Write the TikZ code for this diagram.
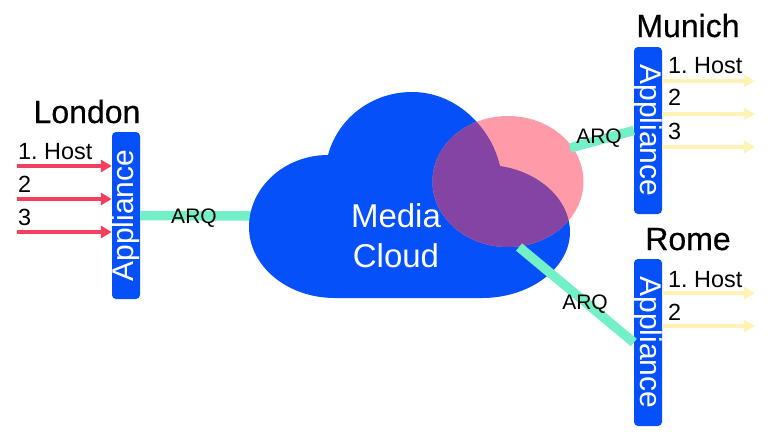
\documentclass[tikz,border=0pt]{standalone}
\usepackage{fontspec}
\setmainfont{Liberation Sans}
\newfontfamily\cityfont[FakeBold=0.5]{Liberation Sans}
\usetikzlibrary{arrows.meta}

\definecolor{cloudblue}{HTML}{0550F8}
\definecolor{arqgreen}{HTML}{74F0C8}
\definecolor{inred}{HTML}{F4405E}
\definecolor{outyellow}{HTML}{FFF2B5}
\definecolor{overlappink}{HTML}{FF9BA8}
\definecolor{overlappurple}{HTML}{8444A4}

\newcommand{\cloudpath}{(335,298) .. controls (287,298) and (249,266) .. (249,227) .. controls (249,187) and (285,155) .. (328,155) .. controls (338,118) and (372,92) .. (412,92) .. controls (456,92) and (491,127) .. (500,166) .. controls (540,172) and (570,200) .. (570,232) .. controls (570,268) and (530,298) .. (482,298) -- cycle}

\begin{document}
\begin{tikzpicture}[x=1pt,y=-1pt,
  box/.style={fill=cloudblue,text=white,rounded corners=4pt,minimum width=167pt,minimum height=28pt,inner sep=0pt,font=\fontsize{30}{30}\selectfont},
  city/.style={anchor=base,font=\cityfont\fontsize{32}{32}\selectfont},
  host/.style={anchor=base west,inner sep=0pt,font=\frenchspacing\fontsize{23.4}{24}\selectfont},
  arq/.style={anchor=base,inner sep=0pt,font=\fontsize{21}{21}\selectfont},
  link/.style={arqgreen,line width=9.5pt},
  inarrow/.style={inred,line width=4.5pt,-{Triangle[length=11pt,width=12pt]}},
  outarrow/.style={outyellow,line width=4.5pt,-{Triangle[length=11pt,width=12pt]}}]

\useasboundingbox (0,0) rectangle (771,440);

\node[box,rotate=90] (lon) at (126,215.5) {Appliance};
\node[box,rotate=-90] (mun) at (648,130.5) {Appliance};
\node[box,rotate=-90] (rom) at (648,342.5) {Appliance};

\coordinate (cloudw) at (252,216);
\coordinate (cloudn) at (570,148);
\coordinate (clouds) at (519,247);

\draw[link] (lon.south) -- (cloudw);
\fill[cloudblue] \cloudpath;
\fill[overlappink] (508,181.5) ellipse [x radius=75.5,y radius=65.5];
\begin{scope}
\clip \cloudpath;
\fill[overlappurple] (508,181.5) ellipse [x radius=75.5,y radius=65.5];
\end{scope}
\draw[link] (mun.south) -- (cloudn);
\draw[link] (rom.south) -- (clouds);

\node[text=white,align=center,font=\fontsize{33}{40}\selectfont] (media) at (396,236) {Media\\Cloud};

\node[city] (london) at (87,123) {London};
\node[city] (munich) at (688,37) {Munich};
\node[city] (rome) at (688,250) {Rome};

\node[host] (l1) at (18,159) {1. Host};
\node[host] (l2) at (18,192) {2};
\node[host] (l3) at (18,225) {3};
\node[host] (m1) at (668,73.5) {1. Host};
\node[host] (m2) at (668,105.5) {2};
\node[host] (m3) at (668,139) {3};
\node[host] (r1) at (668,287) {1. Host};
\node[host] (r2) at (668,320) {2};

\coordinate (la) at (17,166);
\coordinate (lb) at (17,199);
\coordinate (lc) at (17,232);
\coordinate (ma) at (755,81);
\coordinate (mb) at (755,114);
\coordinate (mc) at (755,147);
\coordinate (ra) at (755,293);
\coordinate (rb) at (755,326);

\foreach \c in {la,lb,lc}
  \draw[inarrow] (\c) -- (\c -| lon.north);
\foreach \c in {ma,mb,mc}
  \draw[outarrow] (\c -| mun.north) -- (\c);
\foreach \c in {ra,rb}
  \draw[outarrow] (\c -| rom.north) -- (\c);

\node[arq] (arqa) at (194,223) {ARQ};
\node[arq] (arqb) at (599,143) {ARQ};
\node[arq] (arqc) at (585,309) {ARQ};

\end{tikzpicture}
\end{document}
